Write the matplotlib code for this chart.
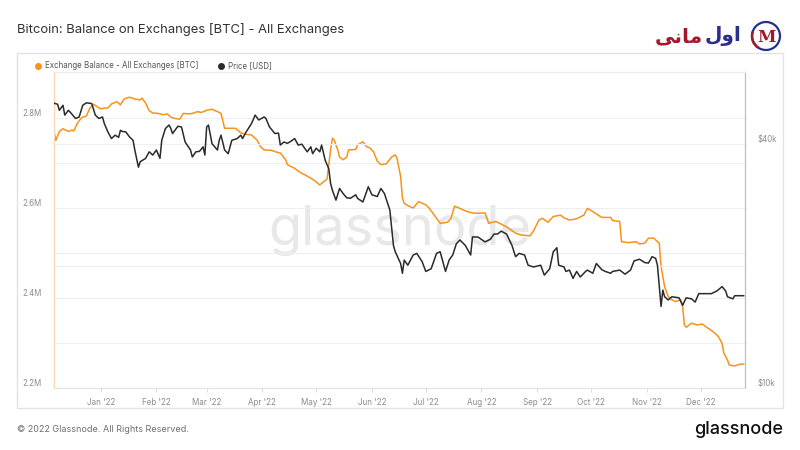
import pandas as pd
import matplotlib
matplotlib.use('Agg')
import matplotlib.pyplot as plt
import matplotlib.dates as mdates
from matplotlib.ticker import FixedLocator, NullLocator, NullFormatter
from matplotlib.patches import Rectangle, Ellipse, Arc

plt.rcParams['font.family'] = ['Inter', 'DejaVu Sans']

# days counted from 2022-01-01
base = pd.Timestamp('2022-01-01')

bal_days = [-26, -25, -23, -21, -18, -16, -15, -13, -11, -10, -8, -6, -4, -2, 0, 2, 4, 6, 9, 11,
            13, 16, 19, 22, 23, 25, 27, 29, 32, 35, 37, 39, 41, 44, 46, 49, 51, 54, 56, 59,
            62, 65, 67, 69, 72, 75, 78, 80, 84, 87, 89, 91, 95, 98, 100, 103, 104, 108, 111, 114,
            117, 119, 122, 124, 126, 128, 129, 130, 132, 133, 135, 137, 138, 142, 143, 146, 148, 150, 152, 154,
            156, 159, 162, 164, 165, 167, 168, 169, 172, 174, 177, 181, 183, 187, 189, 193, 195, 197, 200, 204,
            207, 210, 214, 216, 220, 226, 231, 234, 239, 241, 244, 246, 249, 252, 256, 258, 261, 265, 269, 271,
            274, 277, 279, 284, 285, 289, 290, 294, 298, 300, 303, 305, 308, 310, 311, 312, 314, 316, 318, 320,
            323, 324, 325, 326, 329, 332, 335, 337, 341, 344, 346, 347, 349, 350, 353, 356, 358]
bal_vals = [2.770, 2.750, 2.770, 2.776, 2.770, 2.773, 2.771, 2.788, 2.799, 2.802, 2.804, 2.822, 2.830, 2.825, 2.820, 2.822, 2.822, 2.831, 2.836, 2.829,
            2.842, 2.846, 2.842, 2.840, 2.844, 2.833, 2.816, 2.811, 2.810, 2.807, 2.809, 2.802, 2.799, 2.797, 2.810, 2.809, 2.810, 2.814, 2.812, 2.817,
            2.819, 2.814, 2.810, 2.777, 2.777, 2.777, 2.767, 2.764, 2.762, 2.751, 2.736, 2.729, 2.728, 2.724, 2.722, 2.707, 2.696, 2.688, 2.679, 2.673,
            2.666, 2.661, 2.651, 2.658, 2.664, 2.729, 2.755, 2.751, 2.729, 2.713, 2.707, 2.713, 2.729, 2.730, 2.740, 2.747, 2.736, 2.733, 2.724, 2.704,
            2.696, 2.698, 2.713, 2.718, 2.710, 2.670, 2.622, 2.610, 2.603, 2.600, 2.614, 2.607, 2.599, 2.577, 2.566, 2.568, 2.576, 2.604, 2.599, 2.592,
            2.589, 2.588, 2.589, 2.566, 2.570, 2.558, 2.544, 2.540, 2.538, 2.549, 2.573, 2.577, 2.568, 2.581, 2.584, 2.578, 2.573, 2.576, 2.584, 2.599,
            2.592, 2.584, 2.579, 2.579, 2.572, 2.570, 2.525, 2.523, 2.525, 2.520, 2.522, 2.533, 2.533, 2.525, 2.522, 2.470, 2.425, 2.403, 2.396, 2.392,
            2.396, 2.381, 2.340, 2.335, 2.344, 2.340, 2.342, 2.336, 2.325, 2.314, 2.299, 2.277, 2.262, 2.251, 2.249, 2.253, 2.253]

price_days = [-26, -24, -23, -21, -20, -18, -17, -14, -12, -10, -8, -5, -3, -1, 1, 2, 4, 6, 8, 10,
              11, 12, 14, 16, 18, 19, 21, 22, 25, 27, 29, 31, 33, 34, 36, 38, 39, 40, 43, 45,
              47, 50, 51, 53, 55, 57, 58, 59, 60, 62, 65, 66, 67, 69, 71, 73, 76, 78, 79, 81,
              84, 86, 88, 91, 92, 94, 97, 99, 100, 102, 104, 106, 108, 110, 112, 115, 117, 118, 120, 122,
              123, 125, 127, 128, 129, 131, 133, 135, 137, 139, 142, 143, 146, 149, 151, 154, 156, 158, 161, 163,
              164, 167, 168, 169, 171, 174, 176, 179, 181, 184, 187, 189, 192, 194, 196, 198, 200, 203, 206, 207,
              210, 214, 217, 219, 221, 223, 226, 229, 231, 233, 236, 238, 241, 245, 247, 250, 252, 254, 255, 258,
              259, 261, 263, 265, 267, 270, 271, 274, 276, 279, 281, 284, 285, 289, 292, 295, 297, 300, 303, 305,
              307, 309, 310, 312, 313, 314, 316, 318, 322, 324, 326, 329, 331, 333, 336, 340, 343, 346, 348, 349,
              352, 353, 358]
price_vals = [50.5, 50.2, 48.5, 49.9, 47.2, 48.5, 48.0, 46.3, 46.7, 49.9, 50.6, 50.4, 47.2, 46.3, 46.7, 45.0, 42.9, 41.3, 42.1, 41.6,
              43.3, 43.0, 42.9, 41.7, 40.9, 38.7, 35.1, 36.2, 36.9, 38.3, 37.6, 38.7, 36.9, 40.9, 43.7, 44.6, 43.8, 42.5, 44.3, 44.1,
              40.5, 38.7, 37.2, 38.3, 38.4, 39.4, 37.6, 44.1, 44.6, 40.1, 38.7, 40.9, 42.1, 38.7, 37.9, 40.9, 41.3, 42.1, 41.3, 42.9,
              45.0, 47.2, 45.9, 46.7, 46.3, 44.1, 42.5, 42.6, 39.8, 40.5, 40.2, 40.7, 41.3, 39.8, 40.0, 38.3, 39.4, 37.9, 39.1, 38.3,
              39.8, 36.5, 34.8, 32.0, 30.8, 29.1, 31.1, 30.2, 29.5, 29.4, 30.0, 29.4, 28.8, 31.4, 30.0, 29.7, 31.1, 30.2, 27.5, 22.5,
              21.7, 20.3, 19.2, 20.7, 20.1, 21.3, 21.5, 20.5, 19.4, 19.7, 21.5, 21.7, 19.4, 20.7, 21.3, 22.7, 23.2, 22.5, 21.3, 23.6,
              23.6, 22.95, 23.3, 24.0, 24.0, 24.4, 24.0, 22.5, 21.1, 21.5, 21.3, 20.1, 19.9, 20.1, 19.0, 19.7, 21.7, 22.2, 20.1, 19.9,
              19.4, 19.55, 18.65, 19.4, 18.8, 19.4, 19.55, 19.2, 20.3, 19.6, 19.4, 19.2, 19.4, 19.55, 19.1, 19.55, 20.6, 20.8, 20.4, 20.35,
              21.1, 20.9, 20.1, 15.9, 17.45, 16.8, 16.5, 16.8, 16.7, 16.0, 16.7, 16.6, 16.3, 17.1, 17.1, 17.1, 17.35, 17.8, 17.35, 16.8,
              16.6, 16.9, 16.9]

bal_dates = base + pd.to_timedelta(bal_days, unit='D')
price_dates = base + pd.to_timedelta(price_days, unit='D')
price_usd = [p * 1000 for p in price_vals]

ORANGE = '#f7931a'
DARK = '#2b2b2b'
GRID = '#efefef'
LABEL = '#8c8c8c'

fig = plt.figure(figsize=(8, 4.5), dpi=100)
W, H = 800, 450

def fx(x):
    return x / W

def fy(y):
    return 1 - y / H

# outer panel border
fig.patches.append(Rectangle((fx(17), fy(408)), fx(783) - fx(17), fy(53) - fy(408),
                             transform=fig.transFigure, facecolor='none', edgecolor='#e3e3e3',
                             lw=1, zorder=-1))

ax = fig.add_axes([fx(54), fy(388), fx(745) - fx(54), fy(72) - fy(388)])
ax2 = ax.twinx()

ax.plot(bal_dates, bal_vals, color=ORANGE, lw=1.1, zorder=3)
ax2.plot(price_dates, price_usd, color=DARK, lw=1.1, zorder=3)

ax.set_xlim(pd.Timestamp('2021-12-06'), pd.Timestamp('2022-12-25 18:00'))
ax.set_ylim(2.2, 2.902)
ax2.set_yscale('log')
ax2.set_ylim(10000, 60300)

ax.yaxis.set_major_locator(FixedLocator([2.2, 2.4, 2.6, 2.8]))
ax.yaxis.set_minor_locator(FixedLocator([2.3, 2.5, 2.7]))
ax.set_yticklabels(['2.2M', '2.4M', '2.6M', '2.8M'])
ax.grid(axis='y', which='both', color=GRID, lw=0.8)
ax.tick_params(axis='y', which='both', length=0, pad=9, labelsize=5.7, labelcolor=LABEL)
for t in ax.get_yticklabels():
    t.set_va('bottom')

ax2.yaxis.set_major_locator(FixedLocator([10000, 20000, 40000]))
ax2.yaxis.set_minor_locator(NullLocator())
ax2.yaxis.set_minor_formatter(NullFormatter())
ax2.set_yticklabels(['$10k', '', '$40k'])
ax2.grid(axis='y', which='major', color=GRID, lw=0.8)
ax2.tick_params(axis='y', which='both', length=0, pad=9, labelsize=5.7, labelcolor=LABEL)
for t in ax2.get_yticklabels():
    t.set_va('bottom')

ax.xaxis.set_major_locator(mdates.MonthLocator())
ax.xaxis.set_major_formatter(mdates.DateFormatter("%b '%y"))
ax.tick_params(axis='x', length=3, color='#dddddd', pad=4, labelsize=5.8, labelcolor=LABEL)

for a in (ax, ax2):
    a.spines['top'].set_color('#ececec')
    a.spines['bottom'].set_color('#e6e6e6')
    a.spines['left'].set_color('#fdd8ae')
    a.spines['right'].set_color('#bdbdbd')
    for s in a.spines.values():
        s.set_linewidth(0.8)

# watermark
ax.text(0.5, 0.5, 'glassnode', transform=ax.transAxes, ha='center', va='center',
        fontsize=39, color='#e8e8e8', zorder=1)

# title and legend
fig.text(fx(17), fy(29), 'Bitcoin: Balance on Exchanges [BTC] - All Exchanges',
         fontsize=9.4, color='#333333', ha='left', va='center')
fig.lines.append(plt.Line2D([fx(38)], [fy(66)], marker='o', ms=4, color=ORANGE,
                            transform=fig.transFigure))
fig.text(fx(45), fy(66), 'Exchange Balance - All Exchanges [BTC]', fontsize=5.7,
         color='#555555', ha='left', va='center')
fig.lines.append(plt.Line2D([fx(221)], [fy(66)], marker='o', ms=4, color=DARK,
                            transform=fig.transFigure))
fig.text(fx(228), fy(66), 'Price [USD]', fontsize=5.7, color='#555555', ha='left', va='center')

# footer
fig.text(fx(17), fy(430), '\u00a9 2022 Glassnode. All Rights Reserved.', fontsize=6.5,
         color='#6f6f6f', ha='left', va='center')
fig.text(fx(783), fy(430), 'glassnode', fontsize=13, color='#111111', ha='right',
         va='center', fontweight='medium')

# Persian logo (اول مانی), written in shaped visual order
fig.text(fx(703), fy(37), '\ufbfd\ufee7\ufe8e\ufee3', fontsize=14.5, fontweight='bold',
         color='#a3182a', ha='right', va='center', family=['DejaVu Sans'])
fig.text(fx(741), fy(36), '\ufedd\ufeed\ufe8d', fontsize=14.5, fontweight='bold',
         color='#2a2f8f', ha='right', va='center', family=['DejaVu Sans'])
fig.patches.append(Ellipse((fx(766), fy(36)), 28 / W, 28 / H, transform=fig.transFigure,
                           fill=False, edgecolor='#2a2f8f', lw=1.6))
fig.patches.append(Arc((fx(766), fy(36)), 28 / W, 28 / H, theta1=150, theta2=250,
                       transform=fig.transFigure, edgecolor='#a3182a', lw=1.8))
fig.text(fx(766), fy(37), 'M', fontsize=12, color='#a3182a', ha='center', va='center',
         family=['DejaVu Serif'], fontweight='bold')

fig.savefig('out.png', dpi=100)
